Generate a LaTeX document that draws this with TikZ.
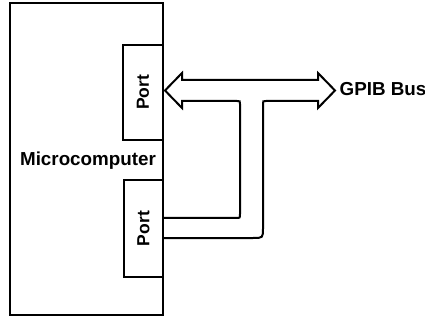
\documentclass[tikz,border=0pt]{standalone}
\usepackage{fontspec}
\setmainfont{Liberation Sans}
\begin{document}
\begin{tikzpicture}[x=1pt,y=-1pt,
  box/.style={draw, line width=2.2pt, inner sep=0pt},
  lbl/.style={font=\bfseries\fontsize{18.8}{20}\selectfont, inner sep=0pt},
  portbox/.style={draw, fill=white, line width=2.2pt, rotate=90, inner sep=0pt,
    font=\bfseries\fontsize{17.5}{19}\selectfont},
  bus/.style={draw, line width=2pt, line join=miter}]
\useasboundingbox (0,0) rectangle (425,320);
\node[box, minimum width=153pt, minimum height=312pt] (micro) at (86.5,159) {};
\node[lbl, anchor=base] (mlabel) at (88,166) {Microcomputer};
\node[portbox, minimum width=95pt, minimum height=40pt] (uport) at (143,92.5) {Port};
\node[portbox, minimum width=97pt, minimum height=39pt] (lport) at (143.5,228.5) {Port};
\node[lbl, anchor=west] (gpib) at (339.5,89.5) {GPIB Bus};
\draw[bus] (163,218) -- (236,218) .. controls (240,218) .. (240,214)
  -- (240,104) .. controls (240,101) .. (237,101)
  -- (182,101) -- (182,108) -- (165,90.5) -- (182,73) -- (182,80)
  -- (318,80) -- (318,73) -- (335,90.5) -- (318,108) -- (318,101)
  -- (266,101) .. controls (263,101) .. (263,104)
  -- (263,228) .. controls (263,238) .. (253,238) -- (163,238);
\end{tikzpicture}
\end{document}
